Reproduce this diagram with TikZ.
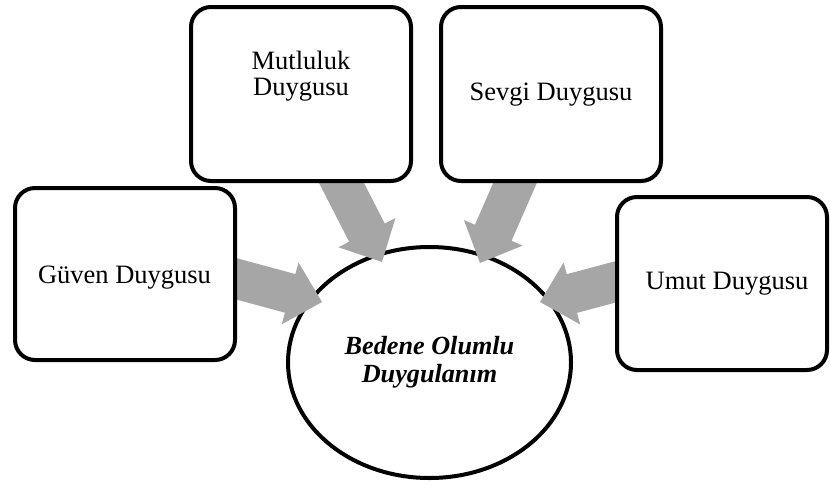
\documentclass[tikz,border=0pt]{standalone}
\usepackage{fontspec}
\setmainfont{Liberation Serif}
\usetikzlibrary{shapes.geometric,calc}
\definecolor{flowgray}{RGB}{166,166,166}
\pgfdeclarelayer{under}
\pgfdeclarelayer{flows}
\pgfsetlayers{under,flows,main}
\tikzset{
  feelbox/.style={draw, line width=4pt, rounded corners=20pt, fill=white, inner sep=0pt},
  feeltext/.style={font=\fontsize{26.5}{25.5}\selectfont, align=center, inner sep=0pt},
  core/.style={draw, ellipse, line width=4pt, fill=white, inner sep=0pt,
    minimum width=283pt, minimum height=231pt,
    font=\fontsize{26.2}{28}\selectfont\bfseries\itshape, align=center},
  flow/.style={fill=flowgray},
}
% block arrow from the edge point e-#1 to the head point t-#1:
% shaft 40pt wide, head 64pt wide and 33pt long
\newcommand\flowarrow[1]{%
  \coordinate (#1-s) at ($(t-#1)!1.2!(e-#1)$);
  \coordinate (#1-b) at ($(t-#1)!33pt!(e-#1)$);
  \path[flow] ($(#1-s)!20pt!90:(t-#1)$) -- ($(#1-b)!20pt!90:(t-#1)$)
    -- ($(#1-b)!32pt!90:(t-#1)$) -- (t-#1)
    -- ($(#1-b)!32pt!-90:(t-#1)$) -- ($(#1-b)!20pt!-90:(t-#1)$)
    -- ($(#1-s)!20pt!-90:(t-#1)$) -- cycle;}
\begin{document}
\begin{tikzpicture}[x=1pt,y=-1pt]
\useasboundingbox (0,0) rectangle (830,485);

% feeling boxes
\node[feelbox, minimum width=220pt, minimum height=172pt] (guven) at (125,274) {};
\node[feelbox, minimum width=220pt, minimum height=174pt] (mutluluk) at (301,94) {};
\node[feelbox, minimum width=220pt, minimum height=174pt] (sevgi) at (551,94) {};
\node[feelbox, minimum width=210pt, minimum height=173pt] (umut) at (722,283.5) {};

\node[feeltext] (guven-t) at (124.5,278) {Güven Duygusu};
\node[feeltext] (mutluluk-t) at (301,76) {Mutluluk\\Duygusu};
\node[feeltext] (sevgi-t) at (551,94.5) {Sevgi Duygusu};
\node[feeltext] (umut-t) at (727,284) {Umut Duygusu};

% central ellipse
\begin{pgfonlayer}{under}
\node[core] (body) at (429.5,362.5) {Bedene Olumlu\\Duygulanım};
\end{pgfonlayer}

% where each flow leaves its box and where its head ends
\coordinate (e-guven) at ($(guven.east)+(0,5)$);
\coordinate (e-mutluluk) at ($(mutluluk.south)+(40.5,0)$);
\coordinate (e-sevgi) at ($(sevgi.south)+(-36,0)$);
\coordinate (e-umut) at ($(umut.west)+(0,-1.5)$);
\coordinate (t-guven) at (322,302);
\coordinate (t-mutluluk) at (382,262);
\coordinate (t-sevgi) at (480,263);
\coordinate (t-umut) at (540,302);

\begin{pgfonlayer}{flows}
\flowarrow{guven}
\flowarrow{mutluluk}
\flowarrow{sevgi}
\flowarrow{umut}
\end{pgfonlayer}
\end{tikzpicture}
\end{document}
